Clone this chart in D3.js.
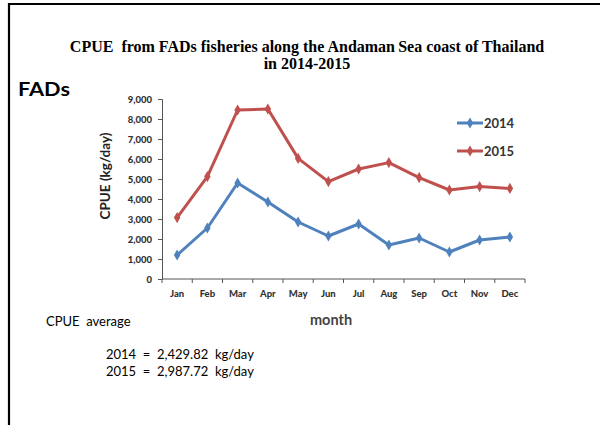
<!DOCTYPE html>
<html>
<head>
<meta charset="utf-8">
<script src="https://cdn.jsdelivr.net/npm/d3@7"></script>
<style>
  html, body { margin: 0; padding: 0; background: #fff; }
  svg { display: block; }
</style>
</head>
<body>
<svg id="chart" width="600" height="425"></svg>
<script>
// Monthly CPUE (kg/day) from FADs fisheries
const months = ["Jan","Feb","Mar","Apr","May","Jun","Jul","Aug","Sep","Oct","Nov","Dec"];
const cpue2014 = [1200, 2550, 4800, 3850, 2850, 2150, 2750, 1700, 2050, 1350, 1950, 2100];
const cpue2015 = [3070, 5120, 8450, 8500, 6030, 4870, 5500, 5820, 5070, 4450, 4620, 4530];
const yTicks = [0, 1000, 2000, 3000, 4000, 5000, 6000, 7000, 8000, 9000];
const seriesNames = ["2014", "2015"];
const seriesColors = ["#4f81bd", "#c0504d"];
const averageLines = ["2014  =  2,429.82  kg/day", "2015  =  2,987.72  kg/day"];

const svg = d3.select("#chart");
const sans = "Lato, 'Open Sans', sans-serif";

// Frame around the slide
svg.append("path")
  .attr("d", "M9,425 L9,4 L600,4")
  .attr("fill", "none")
  .attr("stroke", "#000")
  .attr("stroke-width", 2.2);

// Title
const title = svg.append("text")
  .attr("text-anchor", "middle")
  .attr("font-family", "'Liberation Serif', 'Times New Roman', serif")
  .attr("font-weight", "bold")
  .attr("font-size", 16)
  .attr("fill", "#000");
title.append("tspan").attr("x", 307).attr("y", 52)
  .text("CPUE\u00a0 from FADs fisheries along the Andaman\u2009Sea coast of Thailand");
title.append("tspan").attr("x", 307).attr("y", 69).text("in 2014-2015");

svg.append("text")
  .attr("x", 18).attr("y", 96)
  .attr("font-family", sans).attr("font-weight", "bold").attr("font-size", 18)
  .attr("textLength", 52).attr("lengthAdjust", "spacingAndGlyphs")
  .text("FADs");

// Scales
const x = d3.scaleBand().domain(months).range([162, 525]).padding(0);
const y = d3.scaleLinear().domain([0, 9000]).range([279, 99]);

// Y axis
const yAxis = svg.append("g")
  .attr("transform", "translate(162,0)")
  .call(d3.axisLeft(y).tickValues(yTicks).tickFormat(d3.format(",")).tickSize(4).tickPadding(6));
yAxis.select(".domain").attr("stroke", "#555");
yAxis.selectAll(".tick line").attr("stroke", "#555");
yAxis.selectAll(".tick text")
  .attr("font-family", sans).attr("font-weight", 900).attr("font-size", 9.5).attr("fill", "#333");

// X axis: ticks on category boundaries
const xAxis = svg.append("g").attr("transform", "translate(0,279)");
xAxis.append("line")
  .attr("x1", x.range()[0]).attr("x2", x.range()[1])
  .attr("stroke", "#555");
xAxis.selectAll("line.tk")
  .data(months.map(m => x(m)).concat([x.range()[1]]))
  .join("line").attr("class", "tk")
  .attr("x1", d => d).attr("x2", d => d)
  .attr("y1", 0).attr("y2", 4)
  .attr("stroke", "#555");
xAxis.selectAll("text")
  .data(months)
  .join("text")
  .attr("x", d => x(d) + x.bandwidth() / 2)
  .attr("y", 18)
  .attr("text-anchor", "middle")
  .attr("font-family", sans).attr("font-weight", 900).attr("font-size", 9.5).attr("fill", "#333")
  .text(d => d);

// Axis titles
svg.append("text")
  .attr("transform", "translate(110,176) rotate(-90)")
  .attr("text-anchor", "middle")
  .attr("font-family", sans).attr("font-weight", "bold").attr("font-size", 13.5).attr("fill", "#222")
  .text("CPUE (kg/day)");
svg.append("text")
  .attr("x", 331).attr("y", 325)
  .attr("text-anchor", "middle")
  .attr("font-family", sans).attr("font-weight", "bold").attr("font-size", 14.5).attr("fill", "#444")
  .text("month");

// Series lines with diamond markers
const line = d3.line()
  .x((d, i) => x(months[i]) + x.bandwidth() / 2)
  .y(d => y(d));
const diamond = d3.symbol().type(d3.symbolDiamond).size(36);

[cpue2014, cpue2015].forEach((vals, k) => {
  const g = svg.append("g");
  g.append("path")
    .datum(vals)
    .attr("d", line)
    .attr("fill", "none")
    .attr("stroke", seriesColors[k])
    .attr("stroke-width", 3)
    .attr("stroke-linejoin", "round");
  g.selectAll("path.mk")
    .data(vals)
    .join("path").attr("class", "mk")
    .attr("transform", (d, i) => `translate(${x(months[i]) + x.bandwidth() / 2},${y(d)})`)
    .attr("d", diamond)
    .attr("fill", seriesColors[k]);
});

// Legend
const legend = svg.append("g");
seriesNames.forEach((name, k) => {
  const ly = 123 + k * 28;
  legend.append("line")
    .attr("x1", 457).attr("x2", 483).attr("y1", ly).attr("y2", ly)
    .attr("stroke", seriesColors[k]).attr("stroke-width", 3);
  legend.append("path")
    .attr("transform", `translate(470,${ly})`)
    .attr("d", diamond).attr("fill", seriesColors[k]);
  legend.append("text")
    .attr("x", 484).attr("y", ly + 4.5)
    .attr("font-family", sans).attr("font-weight", "bold").attr("font-size", 13).attr("fill", "#333")
    .text(name);
});

// Averages
svg.append("text")
  .attr("x", 46).attr("y", 326)
  .attr("font-family", sans).attr("font-size", 13).attr("fill", "#000")
  .text("CPUE\u00a0 average");
averageLines.forEach((t, i) => {
  svg.append("text")
    .attr("x", 106).attr("y", 359 + i * 17)
    .attr("font-family", sans).attr("font-size", 13).attr("fill", "#000")
    .style("white-space", "pre")
    .text(t);
});
</script>
</body>
</html>
